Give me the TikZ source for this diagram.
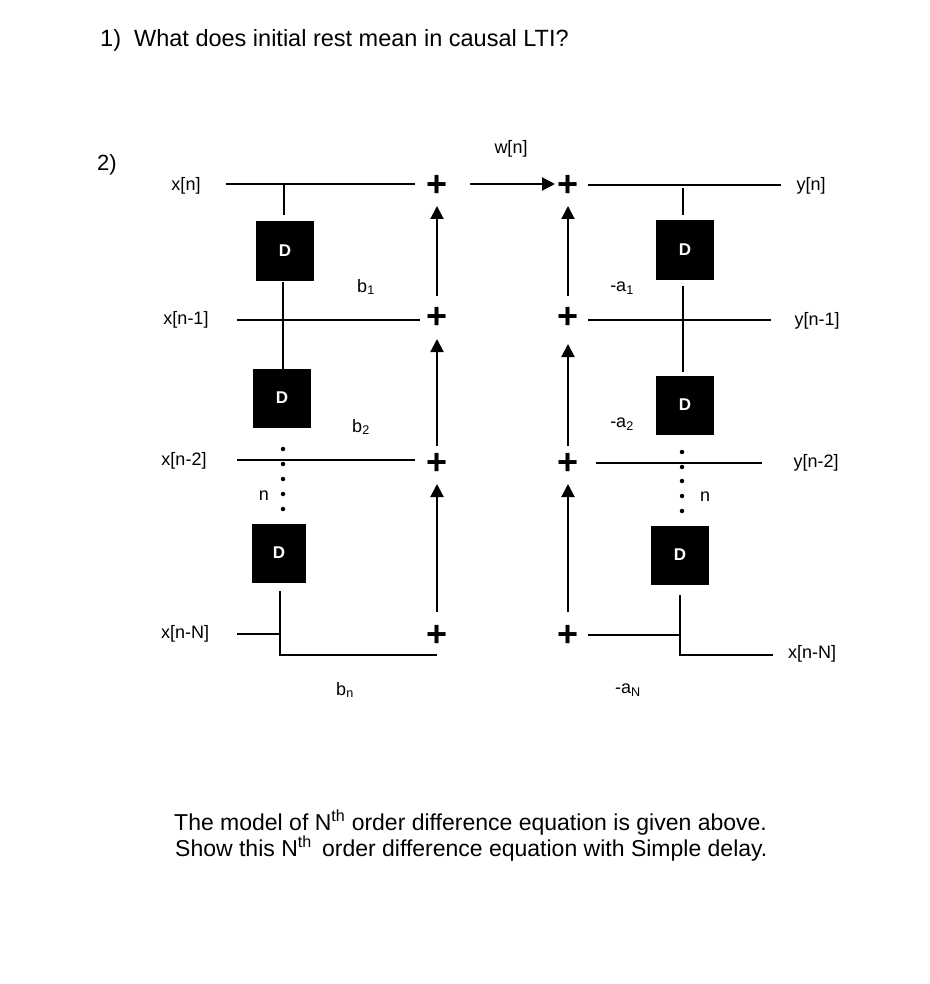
\documentclass[tikz,border=0pt]{standalone}
\usepackage{fontspec}
\setmainfont{Liberation Sans}
\usetikzlibrary{arrows.meta}
\begin{document}
\begin{tikzpicture}[x=1pt,y=-1pt,
  wire/.style={line width=2pt},
  dbox/.style={fill=black,text=white,font=\fontsize{17}{17}\selectfont\bfseries,inner sep=0pt,minimum width=58pt,minimum height=59pt},
  plus/.style={font=\fontsize{36}{36}\selectfont\bfseries,inner sep=0pt},
  lbl/.style={font=\fontsize{18}{18}\selectfont,inner sep=0pt},
  arr/.style={line width=2pt,-{Triangle[length=13pt,width=13pt]}},
  dot/.style={circle,fill=black,inner sep=0pt,minimum size=4.5pt}]
\useasboundingbox[fill=white] (0,0) rectangle (929,984);
\node[anchor=west,font=\fontsize{23.5}{23.5}\selectfont,inner sep=0pt] (q1) at (100,40) {1)\ \ What does initial rest mean in causal LTI?};
\node[font=\fontsize{22}{22}\selectfont] (q2) at (107,165) {2)};
% left labels
\node[lbl] (xn) at (186,186) {x[n]};
\node[lbl] (xn1) at (186,320) {x[n-1]};
\node[lbl] (xn2) at (184,461) {x[n-2]};
\node[lbl] (xnN) at (185,634) {x[n-N]};
\node[dbox] (dl1) at (285,251) {D};
\node[dbox] (dl2) at (282,398) {D};
\node[dbox,minimum width=54pt] (dl3) at (279,553) {D};
\node[plus] (pl0) at (437,186) {+};
\node[plus] (pl1) at (437,318) {+};
\node[plus] (pl2) at (437,464) {+};
\node[plus] (pl3) at (437,636) {+};
\draw[wire] (226,184) -- (415,184);
\draw[wire] (284,184) -- (284,215);
\draw[wire] (283,282) -- (283,369);
\draw[wire] (237,320) -- (420,320);
\draw[wire] (237,460) -- (415,460);
\foreach \y in {449,464,479,494,509} \node[dot] at (283,\y) {};
\node[lbl] (nl) at (264,496) {n};
\draw[wire] (237,634) -- (280,634);
\draw[wire] (280,591) -- (280,655) -- (437,655);
\draw[arr] (437,296) -- (437,206);
\draw[arr] (437,446) -- (437,339);
\draw[arr] (437,612) -- (437,484);
\node[lbl] (b1) at (366,287) {b\textsubscript{1}};
\node[lbl] (b2) at (361,427) {b\textsubscript{2}};
\node[lbl] (bn) at (345,690) {b\textsubscript{n}};
% right
\node[lbl] (wn) at (511,149) {w[n]};
\node[plus] (pr0) at (568,186) {+};
\node[plus] (pr1) at (568,318) {+};
\node[plus] (pr2) at (568,464) {+};
\node[plus] (pr3) at (568,636) {+};
\coordinate (win) at (470,184);
\coordinate (wend) at (555,184);
\draw[arr] (win) -- (wend);
\draw[arr] (568,296) -- (568,206);
\draw[arr] (568,446) -- (568,344);
\draw[arr] (568,612) -- (568,484);
\node[dbox] (dr1) at (685,250) {D};
\node[dbox] (dr2) at (685,405) {D};
\node[dbox] (dr3) at (680,555) {D};
\draw[wire] (588,185) -- (781,185);
\draw[wire] (683,188) -- (683,215);
\draw[wire] (683,286) -- (683,372);
\draw[wire] (588,320) -- (771,320);
\draw[wire] (596,463) -- (762,463);
\foreach \y in {452,467,481,496,511} \node[dot] at (682,\y) {};
\node[lbl] (nr) at (705,497) {n};
\draw[wire] (588,635) -- (680,635);
\draw[wire] (680,595) -- (680,655) -- (773,655);
\node[lbl] (yn) at (811,186) {y[n]};
\node[lbl] (yn1) at (817,321) {y[n-1]};
\node[lbl] (yn2) at (816,463) {y[n-2]};
\node[lbl] (xnNr) at (812,654) {x[n-N]};
\node[lbl] (a1) at (622,288) {-a\textsubscript{1}};
\node[lbl] (a2) at (622,424) {-a\textsubscript{2}};
\node[lbl] (aN) at (628,690) {-a\textsubscript{N}};
\node[anchor=west,font=\fontsize{23}{23}\selectfont,inner sep=0pt] (t1) at (174,823) {The model of N\textsuperscript{th} order difference equation is given above.};
\node[anchor=west,font=\fontsize{23}{23}\selectfont,inner sep=0pt] (t2) at (175,849) {Show this N\textsuperscript{th}\ \,order difference equation with Simple delay.};
\end{tikzpicture}
\end{document}
